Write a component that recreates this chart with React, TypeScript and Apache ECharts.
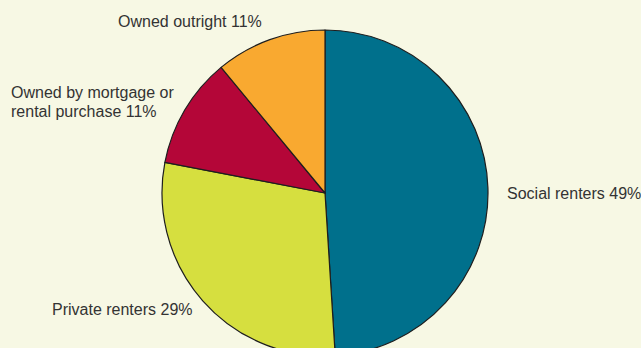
import React, { useEffect, useRef } from "react";
import * as echarts from "echarts";

const categories = [
  "Social renters",
  "Private renters",
  "Owned by mortgage or\nrental purchase",
  "Owned outright",
];
const values = [49, 29, 11, 11];
const colors = ["#00708c", "#d6df3f", "#b40638", "#f9a930"];
const labelPos = [
  { x: 507, y: 193 },
  { x: 52, y: 309 },
  { x: 11, y: 102 },
  { x: 118, y: 21 },
];

export default function App() {
  const ref = useRef<HTMLDivElement>(null);
  useEffect(() => {
    const chart = echarts.init(ref.current!, null, { renderer: "svg" });
    chart.setOption({
      animation: false,
      backgroundColor: "#f7f8e4",
      series: [
        {
          type: "pie",
          center: [325, 193],
          radius: 163,
          startAngle: 90,
          clockwise: true,
          silent: true,
          data: categories.map((c, i) => ({
            name: c,
            value: values[i],
            itemStyle: { color: colors[i] },
          })),
          itemStyle: { borderColor: "#1e1e1e", borderWidth: 1.2 },
          label: {
            show: true,
            position: "outside",
            formatter: (p: any) => `${p.name} ${p.value}%`,
            color: "#333333",
            fontSize: 16,
            lineHeight: 19,
            fontFamily: "Liberation Sans, Arial, sans-serif",
            align: "left",
            overflow: "none",
            width: 300,
            edgeDistance: 0,
          },
          labelLine: { show: false },
          labelLayout: (p: any) => ({
            x: labelPos[p.dataIndex].x,
            y: labelPos[p.dataIndex].y,
            align: "left",
            verticalAlign: "middle",
          }),
        },
      ],
    });
    return () => chart.dispose();
  }, []);
  return (
    <div
      ref={ref}
      style={{ position: "fixed", left: 0, top: 0, width: 641, height: 348 }}
    />
  );
}
